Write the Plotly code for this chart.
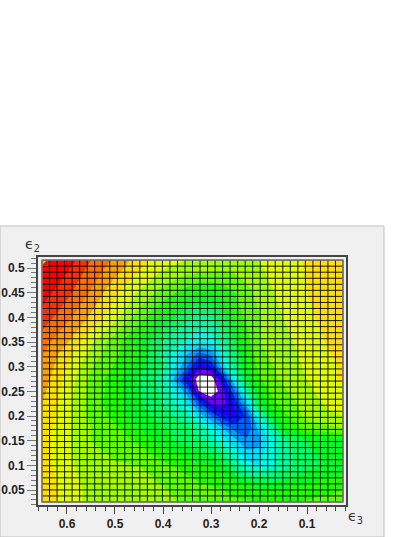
import plotly.graph_objects as go
import numpy as np

# e3 and e2 node positions
e3 = [0.652, 0.6, 0.55, 0.5, 0.45, 0.4, 0.35, 0.325, 0.3, 0.275, 0.25, 0.225, 0.2, 0.175, 0.15, 0.1, 0.05, 0.025]
e2 = [0.0257, 0.05, 0.1, 0.15, 0.175, 0.2, 0.225, 0.25, 0.275, 0.3, 0.325, 0.35, 0.4, 0.45, 0.5, 0.516]

# level per node, one row per e2 value, bottom to top
z = [
    [15.6, 14.5, 13.7, 13.5, 13.4, 13.3, 12.8, 12.6, 12.4, 12.2, 12.1, 12.1, 11.9, 11.7, 11.8, 12.1, 12.3, 12.5],
    [15.7, 14.6, 13.7, 13.3, 13.2, 13.1, 12.6, 12.4, 12.2, 12.0, 11.8, 11.6, 11.3, 11.0, 11.0, 11.5, 11.8, 12.0],
    [15.5, 14.3, 13.3, 13.1, 13.0, 12.3, 11.6, 11.2, 10.9, 10.4, 8.8, 7.4, 7.0, 7.6, 8.6, 9.5, 10.2, 10.6],
    [15.5, 14.2, 13.0, 12.5, 11.8, 10.3, 9.6, 9.2, 8.4, 7.3, 6.3, 5.2, 5.6, 7.4, 8.5, 10.0, 10.4, 10.4],
    [15.6, 14.2, 13.0, 12.3, 11.0, 10.2, 9.3, 8.6, 7.6, 6.0, 4.6, 4.2, 6.3, 8.2, 10.6, 12.4, 12.8, 13.0],
    [15.8, 14.3, 12.8, 11.6, 10.5, 9.4, 8.5, 6.8, 5.0, 3.2, 2.8, 4.2, 7.7, 10.2, 11.6, 13.4, 13.8, 14.0],
    [16.0, 14.4, 12.6, 11.4, 10.2, 9.0, 7.0, 4.5, 2.0, 1.6, 3.2, 6.5, 9.8, 11.5, 12.4, 13.4, 14.3, 14.6],
    [16.3, 14.5, 12.7, 11.5, 10.0, 8.8, 5.5, 1.0, 0.2, 1.6, 5.0, 8.5, 10.8, 12.2, 12.8, 13.7, 14.7, 14.9],
    [16.6, 14.7, 12.8, 11.4, 9.9, 8.5, 2.8, 0.3, 0.3, 3.0, 7.5, 10.0, 11.8, 12.7, 13.2, 14.0, 14.9, 15.1],
    [16.9, 15.0, 13.1, 11.9, 10.4, 9.0, 5.0, 2.4, 3.0, 6.5, 9.0, 10.9, 12.3, 12.9, 13.3, 14.2, 14.9, 15.1],
    [17.1, 15.4, 13.7, 12.2, 11.0, 8.6, 6.0, 4.6, 5.2, 7.5, 9.4, 11.0, 12.6, 13.2, 13.5, 14.3, 15.0, 15.2],
    [17.5, 16.1, 14.2, 12.4, 10.8, 9.0, 7.8, 7.0, 7.4, 8.5, 10.0, 11.6, 13.0, 13.4, 13.7, 14.4, 15.2, 15.4],
    [18.6, 17.3, 15.8, 14.4, 12.5, 10.8, 9.2, 8.9, 9.0, 9.6, 11.4, 12.2, 12.9, 13.5, 14.0, 14.8, 15.4, 15.5],
    [19.5, 18.3, 16.9, 15.2, 13.9, 12.6, 11.5, 11.0, 11.0, 11.4, 12.0, 12.7, 13.3, 13.9, 14.3, 15.0, 15.4, 15.5],
    [20.3, 19.2, 17.7, 16.5, 15.2, 14.1, 13.6, 13.5, 13.3, 13.2, 13.3, 13.6, 13.9, 14.2, 14.5, 15.1, 15.4, 15.5],
    [20.5, 19.6, 18.0, 16.8, 15.5, 14.2, 14.0, 13.8, 13.5, 13.4, 13.5, 13.7, 14.0, 14.3, 14.5, 15.1, 15.5, 15.6],
]

# one colour per band, band k is z in [k, k+1)
bands = ['#ffffff', '#7000ff', '#2000ff', '#0020ff', '#0060ff', '#00a0ff', '#00e0ff', '#00ffe0', '#00ffa0', '#00ff60',
         '#00ff20', '#20ff00', '#60ff00', '#a0ff00', '#e0ff00', '#ffe000', '#ffa000', '#ff7000', '#ff3000', '#ff0000', '#ff0000']

# stepped scale so neighbouring bands never blend
scale = []
for k, c in enumerate(bands):
    scale.append([max(k - 0.5, 0) / 20, c])
    scale.append([min(k + 0.5, 20) / 20, c])

# small glitch in the top left corner
corner_x = [0.652, 0.640]
corner_y = [0.505, 0.516]
corner_z = [[19.0, 19.5], [3.0, 19.0]]

x_ticks = [0.6, 0.5, 0.4, 0.3, 0.2, 0.1]
x_labels = ['0.6', '0.5', '0.4', '0.3', '0.2', '0.1']
y_ticks = [0.05, 0.1, 0.15, 0.2, 0.25, 0.3, 0.35, 0.4, 0.45, 0.5]
y_labels = ['0.05', '0.1', '0.15', '0.2', '0.25', '0.3', '0.35', '0.4', '0.45', '0.5']

n_bins = 40
x_edges = np.linspace(e3[0], e3[-1], n_bins + 1)
y_edges = np.linspace(e2[0], e2[-1], n_bins + 1)

mesh_x = []
mesh_y = []
for v in x_edges:
    mesh_x += [v, v, None]
    mesh_y += [e2[0], e2[-1], None]
for v in y_edges:
    mesh_x += [e3[0], e3[-1], None]
    mesh_y += [v, v, None]

contour_opts = dict(start=1, end=20, size=1, coloring='fill', showlines=False)

fig = go.Figure()
fig.add_trace(go.Contour(x=e3, y=e2, z=z, colorscale=scale, zmin=1, zmax=20, contours=contour_opts,
                         line_width=0, line_smoothing=0, showscale=False, hoverinfo='skip'))
fig.add_trace(go.Contour(x=corner_x, y=corner_y, z=corner_z, colorscale=scale, zmin=1, zmax=20, contours=contour_opts,
                         line_width=0, line_smoothing=0, showscale=False, hoverinfo='skip'))
fig.add_trace(go.Scatter(x=mesh_x, y=mesh_y, mode='lines', line=dict(color='#000000', width=0.9),
                         hoverinfo='skip', showlegend=False))

tick_font = dict(family='Liberation Sans', size=12, color='#222222', weight=700)
fig.update_xaxes(range=[0.6604, 0.01875], domain=[38 / 415, 346 / 415], tickmode='array', tickvals=x_ticks, ticktext=x_labels,
                 ticks='outside', ticklen=7, tickcolor='#444444', tickfont=tick_font, showgrid=False, zeroline=False,
                 showline=True, linecolor='#444444', linewidth=2, mirror=True,
                 minor=dict(tickmode='linear', tick0=0, dtick=0.02, ticks='outside', ticklen=4, tickcolor='#444444', showgrid=False))
fig.update_yaxes(range=[0.0196, 0.5223], domain=[1 - 505 / 537, 1 - 257 / 537], tickmode='array', tickvals=y_ticks, ticktext=y_labels,
                 ticks='outside', ticklen=9, tickcolor='#777777', tickfont=tick_font, showgrid=False, zeroline=False,
                 showline=True, linecolor='#444444', linewidth=2, mirror=True,
                 minor=dict(tickmode='linear', tick0=0, dtick=0.01, ticks='outside', ticklen=5, tickcolor='#777777', showgrid=False))

# grey pad behind the frame, in page pixels
fig.add_shape(type='rect', xref='paper', yref='paper', x0=0, x1=384 / 415, y0=0, y1=1 - 226 / 537,
              fillcolor='#f0f0f0', line=dict(color='#c0c0c0', width=1), layer='below')
fig.add_shape(type='rect', x0=e3[0], x1=e3[-1], y0=e2[0], y1=e2[-1], line=dict(color='#808080', width=1.5))

label_font = dict(family='DejaVu Sans', size=14, color='#333333')
fig.add_annotation(text='ϵ<sub>2</sub>', xref='paper', yref='paper', x=32 / 415, y=1 - 245 / 537, xanchor='center', yanchor='middle',
                   showarrow=False, font=label_font)
fig.add_annotation(text='ϵ<sub>3</sub>', xref='paper', yref='paper', x=355 / 415, y=1 - 517 / 537, xanchor='center', yanchor='middle',
                   showarrow=False, font=label_font)

fig.update_layout(width=415, height=537, autosize=False, margin=dict(l=0, r=0, t=0, b=0), showlegend=False,
                  paper_bgcolor='#ffffff', plot_bgcolor='#ffffff')

fig.write_html("out.html", config=dict(displayModeBar=False), post_script="document.body.style.margin='0';")
